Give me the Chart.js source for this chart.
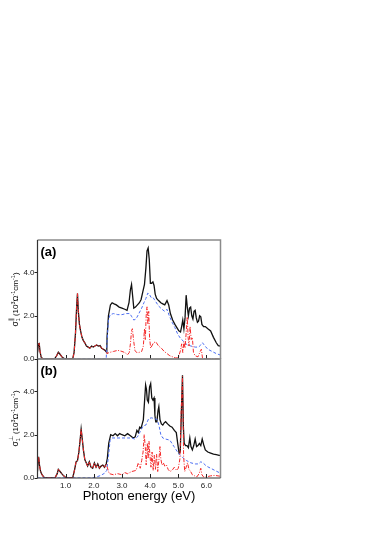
<!DOCTYPE html>
<html>
<head>
<meta charset="utf-8">
<script src="https://cdn.jsdelivr.net/npm/chart.js@4/dist/chart.umd.min.js"></script>
<style>
  html, body { margin: 0; padding: 0; background: #fff; }
  body { width: 382px; height: 541px; position: relative; overflow: hidden; }
  canvas { position: absolute; left: 0; }
</style>
</head>
<body>
<canvas id="panelA" width="230" height="140"></canvas>
<canvas id="panelB" width="230" height="190"></canvas>
<script>
// tick positions / labels
const xTicks = [1, 2, 3, 4, 5, 6];
const yTicks = [0, 2, 4];

// (a) low-energy part, black and red coincide there
const lowA = [[0,0.3],[0.03,0.7],[0.06,0.72],[0.09,0.35],[0.13,0.08],[0.2,0],[0.6,0],[0.68,0.15],[0.74,0.31],[0.8,0.22],
  [0.88,0.08],[0.98,0],[1.25,0],[1.3,0.3],[1.35,1.2],[1.39,2.4],[1.42,3.03],[1.45,2.2],[1.49,1.6],[1.53,1.3],[1.58,1.0],
  [1.63,0.85],[1.68,0.75],[1.74,0.6],[1.8,0.55],[1.86,0.5],[1.92,0.6],[1.98,0.55],[2.04,0.6],[2.1,0.65],[2.16,0.6],
  [2.22,0.62],[2.28,0.5],[2.34,0.45],[2.4,0.4],[2.46,0.3]];

const blackA = [[2.47,1.0],[2.52,2.0],[2.59,2.5],[2.65,2.6],[2.72,2.55],[2.8,2.5],[2.9,2.4],[3.0,2.35],[3.1,2.3],[3.18,2.25],
  [3.25,2.6],[3.3,3.2],[3.34,3.44],[3.38,2.9],[3.42,2.35],[3.48,2.4],[3.55,2.5],[3.62,2.6],[3.68,2.75],[3.74,3.1],[3.8,3.45],
  [3.85,4.2],[3.89,5.0],[3.93,5.13],[3.97,4.6],[4.01,3.5],[4.05,3.5],[4.1,3.56],[4.14,3.4],[4.18,3.0],[4.23,2.8],[4.3,2.7],
  [4.38,2.6],[4.45,2.55],[4.52,2.5],[4.6,2.7],[4.66,2.5],[4.72,2.1],[4.8,1.8],[4.88,1.6],[4.95,1.45],[5.02,1.3],[5.08,1.25],
  [5.12,1.5],[5.16,1.8],[5.2,1.4],[5.24,1.9],[5.28,2.95],[5.32,2.4],[5.36,2.0],[5.4,2.35],[5.44,2.4],[5.48,2.0],[5.52,1.85],
  [5.56,2.2],[5.6,2.25],[5.64,1.9],[5.68,1.7],[5.72,1.75],[5.76,2.0],[5.8,1.95],[5.84,1.6],[5.9,1.5],[5.96,1.5],[6.05,1.4],
  [6.15,1.3],[6.25,1.0],[6.35,0.75],[6.42,0.62],[6.5,0.6]];

const blueA = [[0,0],[2.44,0],[2.47,0.8],[2.52,1.8],[2.58,2.05],[2.7,2.1],[2.85,2.05],[3.0,2.05],[3.15,2.1],[3.28,2.1],
  [3.35,1.95],[3.42,1.8],[3.5,1.85],[3.6,2.1],[3.7,2.35],[3.78,2.6],[3.85,2.8],[3.92,3.05],[3.97,3.0],[4.03,2.85],[4.1,2.85],
  [4.2,2.65],[4.3,2.45],[4.42,2.3],[4.52,2.2],[4.6,2.3],[4.68,2.0],[4.78,1.7],[4.88,1.45],[4.98,1.15],[5.08,0.95],[5.2,0.8],
  [5.32,0.65],[5.45,0.6],[5.6,0.55],[5.72,0.55],[5.8,0.65],[5.86,0.75],[5.95,0.6],[6.05,0.45],[6.2,0.35],[6.35,0.25],[6.5,0.18]];

const redA = [[2.47,0.25],[2.55,0.3],[2.7,0.35],[2.85,0.4],[3.0,0.35],[3.1,0.3],[3.2,0.2],[3.26,0.3],[3.3,0.7],[3.34,1.3],
  [3.37,1.4],[3.41,0.9],[3.46,0.4],[3.52,0.3],[3.6,0.3],[3.7,0.35],[3.76,0.6],[3.8,1.4],[3.83,0.9],[3.86,2.0],[3.89,2.41],
  [3.92,1.6],[3.95,2.2],[3.98,1.0],[4.02,0.5],[4.06,0.6],[4.12,0.75],[4.2,0.8],[4.3,0.6],[4.4,0.5],[4.5,0.35],[4.6,0.25],
  [4.7,0.15],[4.8,0.1],[4.9,0.05],[5.0,0.05],[5.08,0.4],[5.12,0.7],[5.16,0.3],[5.2,0.8],[5.24,0.5],[5.28,1.2],[5.32,1.95],
  [5.35,1.0],[5.38,0.6],[5.42,1.5],[5.46,0.9],[5.5,1.0],[5.54,0.3],[5.6,0.15],[5.7,0.1],[5.78,0.35],[5.82,0.45],[5.86,0.05],
  [5.95,0],[6.1,0],[6.3,0],[6.5,0]];

// (b) low-energy part, black and red coincide there
const lowB = [[0,0.3],[0.02,0.9],[0.04,0.98],[0.07,0.6],[0.11,0.3],[0.16,0.15],[0.25,0],[0.62,0],[0.7,0.2],[0.74,0.4],
  [0.8,0.3],[0.86,0.2],[0.93,0.1],[1.02,0],[1.25,0],[1.32,0.4],[1.37,0.75],[1.42,0.8],[1.47,1.2],[1.51,1.7],[1.55,2.26],
  [1.59,1.8],[1.63,1.3],[1.68,0.85],[1.73,0.7],[1.78,0.55],[1.84,0.75],[1.9,0.5],[1.96,0.45],[2.02,0.7],[2.08,0.5],
  [2.14,0.65],[2.2,0.45],[2.26,0.55],[2.32,0.6],[2.38,0.5],[2.44,0.65]];

const blackB = [[2.48,0.9],[2.53,1.6],[2.6,2.0],[2.68,1.95],[2.76,2.05],[2.84,1.95],[2.92,2.05],[3.0,2.0],[3.1,1.95],
  [3.2,2.05],[3.3,1.95],[3.4,1.85],[3.47,1.9],[3.53,2.2],[3.58,2.1],[3.63,2.35],[3.68,2.3],[3.72,2.5],[3.76,2.7],[3.8,3.5],
  [3.84,4.3],[3.87,4.1],[3.9,3.6],[3.94,3.5],[3.98,4.2],[4.02,4.36],[4.06,3.7],[4.1,3.6],[4.14,3.7],[4.17,2.9],[4.2,2.6],
  [4.24,2.6],[4.28,3.1],[4.31,3.3],[4.35,2.7],[4.4,2.5],[4.45,2.45],[4.5,2.55],[4.55,2.6],[4.62,2.5],[4.7,2.4],[4.78,2.35],
  [4.86,2.2],[4.93,2.1],[4.98,1.6],[5.03,1.15],[5.07,1.2],[5.11,3.0],[5.15,4.75],[5.18,2.4],[5.21,1.6],[5.26,1.5],[5.31,1.5],
  [5.36,1.4],[5.41,1.85],[5.45,1.45],[5.5,1.3],[5.55,1.5],[5.6,1.8],[5.65,1.45],[5.7,1.5],[5.75,1.6],[5.8,1.5],[5.85,1.8],
  [5.9,1.55],[5.96,1.3],[6.05,1.2],[6.15,1.15],[6.25,1.1],[6.35,1.08],[6.45,1.05],[6.5,1.05]];

const blueB = [[0,0],[1.95,0],[2.1,0.05],[2.25,0.12],[2.38,0.22],[2.46,0.35],[2.52,1.0],[2.58,1.75],[2.64,1.85],[2.8,1.85],
  [3.0,1.85],[3.2,1.85],[3.35,1.85],[3.45,1.8],[3.55,1.9],[3.65,2.15],[3.75,2.4],[3.85,2.45],[3.95,2.75],[4.05,2.78],
  [4.15,2.75],[4.25,2.7],[4.32,2.4],[4.38,2.0],[4.45,1.85],[4.55,1.8],[4.7,1.75],[4.85,1.45],[5.0,1.15],[5.15,0.95],
  [5.3,0.8],[5.45,0.7],[5.6,0.65],[5.72,0.65],[5.8,0.75],[5.88,0.7],[6.0,0.55],[6.15,0.45],[6.3,0.35],[6.5,0.22]];

const redB = [[2.45,0.6],[2.55,0.2],[2.7,0.15],[2.85,0.2],[3.0,0.15],[3.1,0.25],[3.2,0.2],[3.35,0.3],[3.5,0.35],[3.58,0.7],
  [3.65,0.45],[3.7,0.8],[3.75,1.2],[3.79,2.0],[3.83,1.4],[3.86,0.6],[3.9,1.6],[3.93,0.9],[3.96,1.7],[3.99,1.1],[4.03,0.5],
  [4.07,1.2],[4.11,0.35],[4.15,1.05],[4.19,0.4],[4.23,1.1],[4.27,0.3],[4.31,0.8],[4.35,1.45],[4.38,0.9],[4.42,0.6],[4.47,0.7],
  [4.52,0.55],[4.58,0.6],[4.64,0.4],[4.7,0.3],[4.78,0.35],[4.86,0.5],[4.94,0.35],[5.0,0.45],[5.06,0.9],[5.1,3.0],[5.15,4.7],
  [5.19,1.0],[5.23,0.3],[5.28,0.5],[5.33,0.7],[5.38,0.4],[5.44,0.3],[5.5,0.15],[5.58,0.1],[5.66,0.05],[5.74,0.2],[5.8,0.45],
  [5.84,0.15],[5.9,0.05],[6.0,0.05],[6.15,0.1],[6.3,0.12],[6.5,0.08]];

const FONT = "'Liberation Sans', Arial, sans-serif";
const PLOT_H = 119;

const toPts = arr => arr.map(p => ({ x: p[0], y: p[1] }));

// frame, inward x ticks, outward y ticks, panel tag and axis titles
const framePlugin = {
    id: 'frame',
    afterDraw(chart, args, opts) {
        const { ctx, chartArea: a } = chart;
        const x = chart.scales.x, y = chart.scales.y;
        ctx.save();
        ctx.strokeStyle = '#222';
        ctx.lineWidth = 1;
        ctx.beginPath();
        xTicks.forEach(v => {
            const px = Math.round(x.getPixelForValue(v)) + 0.5;
            ctx.moveTo(px, a.bottom); ctx.lineTo(px, a.bottom - 4);
        });
        yTicks.forEach(v => {
            const py = Math.round(y.getPixelForValue(v)) + 0.5;
            ctx.moveTo(a.left - 3, py); ctx.lineTo(a.left, py);
        });
        ctx.stroke();

        // top and right border, grey
        ctx.strokeStyle = '#8a8a8a';
        ctx.lineWidth = 1.5;
        ctx.beginPath();
        ctx.moveTo(a.left, a.top); ctx.lineTo(a.right, a.top); ctx.lineTo(a.right, a.bottom);
        ctx.stroke();
        // left and bottom axes
        ctx.strokeStyle = '#333';
        ctx.lineWidth = 1.2;
        ctx.beginPath();
        ctx.moveTo(a.left, a.top); ctx.lineTo(a.left, a.bottom); ctx.lineTo(a.right, a.bottom);
        ctx.stroke();

        // panel tag
        ctx.fillStyle = '#000';
        ctx.font = 'bold 13px ' + FONT;
        ctx.textBaseline = 'alphabetic';
        ctx.textAlign = 'left';
        ctx.fillText(opts.tag, a.left + 3, a.top + 16);

        // y title: sigma_1 with polarisation mark, units with superscripts
        const parts = [
            { t: 'σ', s: 8.5, dy: 0 },
            { t: '1', s: 5.5, dy: 2, stack: true },
            { t: opts.pol, s: 5.5, dy: -5 },
            { t: ' (10', s: 8, dy: 0 },
            { t: '3', s: 5.5, dy: -3.5 },
            { t: 'Ω', s: 8, dy: 0 },
            { t: '-1', s: 5.5, dy: -3.5 },
            { t: 'cm', s: 8, dy: 0 },
            { t: '-1', s: 5.5, dy: -3.5 },
            { t: ')', s: 8, dy: 0 }
        ];
        let total = 0;
        const widths = parts.map(p => {
            ctx.font = p.s + 'px ' + FONT;
            const w = ctx.measureText(p.t).width;
            if (!p.stack) total += w;
            return w;
        });
        ctx.translate(15, (a.top + a.bottom) / 2);
        ctx.rotate(-Math.PI / 2);
        let cx = -total / 2;
        parts.forEach((p, i) => {
            ctx.font = p.s + 'px ' + FONT;
            ctx.fillText(p.t, cx, 3 + p.dy);
            if (!p.stack) cx += widths[i];
        });
        ctx.setTransform(1, 0, 0, 1, 0, 0);

        if (opts.xTitle) {
            ctx.font = '13px ' + FONT;
            ctx.textAlign = 'center';
            ctx.fillText(opts.xTitle, 139, a.bottom + 21.5);
        }
        ctx.restore();
    }
};

function makePanel(canvasId, low, black, blue, red, tag, pol, xTitle, plotTop) {
    const canvas = document.getElementById(canvasId);
    const chart = new Chart(canvas, {
        type: 'line',
        data: {
            datasets: [
                { label: 'total', data: toPts(low.concat(black)), borderColor: '#111', borderWidth: 1.3, order: 3 },
                { label: 'blue', data: toPts(blue), borderColor: '#4d6ff2', borderWidth: 1, borderDash: [3, 2], order: 2 },
                { label: 'red', data: toPts(low.concat(red)), borderColor: '#f42a2a', borderWidth: 1, borderDash: [4, 1.5, 1, 1.5], order: 1 }
            ]
        },
        options: {
            responsive: false, animation: false,
            layout: { padding: { top: 10, right: 9.5, left: 0, bottom: 0 } },
            elements: { point: { radius: 0 }, line: { tension: 0 } },
            scales: {
                x: {
                    type: 'linear', min: 0, max: 6.5,
                    grid: { display: false, drawTicks: false },
                    border: { display: false },
                    afterBuildTicks: s => { s.ticks = xTicks.map(v => ({ value: v })); },
                    afterFit: s => { s.height = s.chart.$xHeight; },
                    ticks: { display: !!xTitle, autoSkip: false, maxRotation: 0, padding: 3, color: '#222',
                        font: { family: FONT, size: 8 }, callback: v => v.toFixed(1) }
                },
                y: {
                    min: 0, max: 5.5,
                    grid: { display: false, drawTicks: false },
                    border: { display: false },
                    afterBuildTicks: s => { s.ticks = yTicks.map(v => ({ value: v })); },
                    afterFit: s => { s.width = 37.5; },
                    ticks: { padding: 3, color: '#222', font: { family: FONT, size: 8 }, callback: v => v.toFixed(1) }
                }
            },
            plugins: {
                legend: { display: false },
                tooltip: { enabled: false },
                frame: { tag: tag, pol: pol, xTitle: xTitle }
            }
        },
        plugins: [framePlugin]
    });
    // make the plot box exactly PLOT_H tall and put it at plotTop on the page
    chart.$xHeight = 10;
    chart.update();
    const a = chart.chartArea;
    chart.$xHeight = 10 + (a.bottom - a.top) - PLOT_H;
    chart.update();
    canvas.style.top = (plotTop - chart.chartArea.top) + 'px';
    return chart;
}

makePanel('panelA', lowA, blackA, blueA, redA, '(a)', '∥', null, 240);
makePanel('panelB', lowB, blackB, blueB, redB, '(b)', '⊥', 'Photon energy (eV)', 359);
</script>
</body>
</html>
